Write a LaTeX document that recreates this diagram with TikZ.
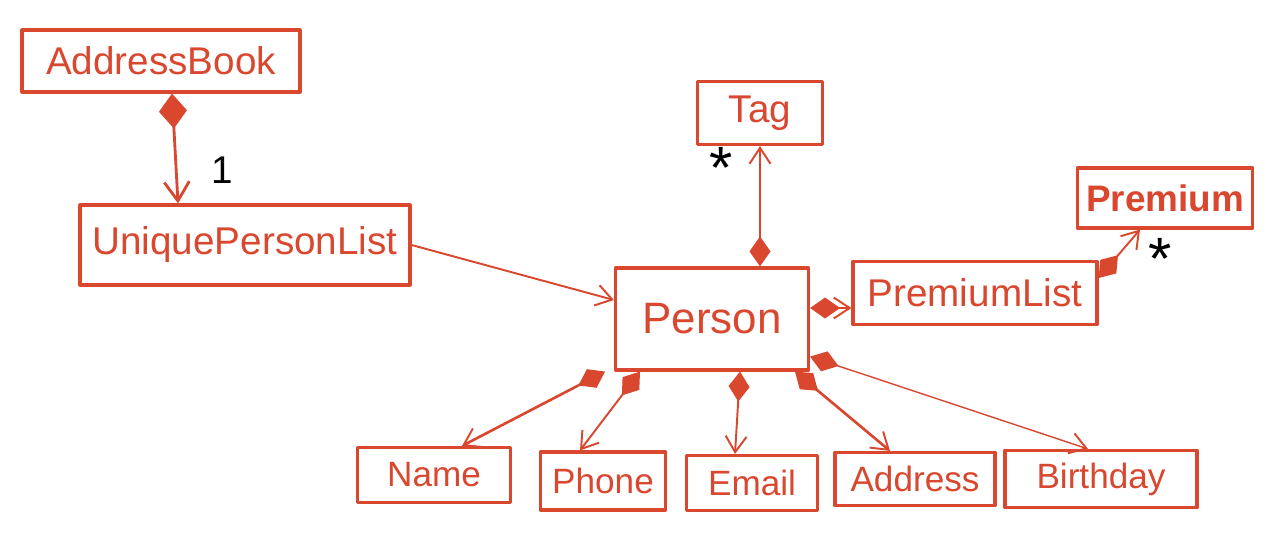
\documentclass[tikz,border=0pt]{standalone}
\usepackage{fontspec}
\setmainfont{Liberation Sans}
\usetikzlibrary{arrows.meta}
\definecolor{ink}{HTML}{D9472F}
\begin{document}
\begin{tikzpicture}[x=0.02cm, y=-0.02cm, line join=round, line cap=round,
	box/.style={draw=ink, line width=1.8pt, text=ink, inner sep=0pt,
		font=\fontsize{22}{26}\selectfont},
	small/.style={box, font=\fontsize{20}{24}\selectfont},
	link/.style={draw=ink, line width=1.1pt,
		-{Straight Barb[length=0.32cm, width=0.42cm, line width=1.1pt]}},
	comp/.style={link, {Diamond[length=0.6cm, width=0.42cm, fill=ink]}-{Straight Barb[length=0.32cm, width=0.42cm, line width=1.1pt]}},
	mult/.style={text=black, font=\fontsize{22}{26}\selectfont},
	star/.style={text=black, font=\fontsize{34}{40}\selectfont}]
	\useasboundingbox (0,0) rectangle (1288,554);
	% classes
	\node[box, minimum width=5.56cm, minimum height=1.24cm] (ab) at (161,61) {AddressBook};
	\node[box, minimum width=6.6cm, minimum height=1.6cm] (upl) at (245,245) {UniquePersonList};
	\node[box, minimum width=3.86cm, minimum height=2.04cm, font=\fontsize{25}{30}\selectfont] (person) at (712,319) {Person};
	\node[box, minimum width=2.5cm, minimum height=1.26cm] (tag) at (760,113) {Tag};
	\node[box, minimum width=4.88cm, minimum height=1.26cm] (plist) at (975,293) {PremiumList};
	\node[box, minimum width=3.5cm, minimum height=1.2cm, font=\fontsize{21}{26}\bfseries] (prem) at (1165,198) {Premium};
	\node[small, minimum width=3.06cm, minimum height=1.1cm] (name) at (434,475) {Name};
	\node[small, minimum width=2.5cm, minimum height=1.16cm] (phone) at (603,481) {Phone};
	\node[small, minimum width=2.62cm, minimum height=1.1cm] (email) at (752,483) {Email};
	\node[small, minimum width=3.2cm, minimum height=1.06cm] (addr) at (915,479) {Address};
	\node[small, minimum width=3.84cm, minimum height=1.14cm] (bday) at (1101,479) {Birthday};
	% associations
	\draw[comp, line width=1.6pt, {Diamond[length=0.7cm, width=0.56cm, fill=ink]}-{Straight Barb[length=0.38cm, width=0.5cm, line width=1.6pt]}]
		([xshift=0.22cm]ab.south) -- ([xshift=-1.34cm]upl.north);
	\node[mult] (one) at (222,170) {1};
	\draw[link] (upl.east) -- ([yshift=0.38cm]person.west);
	\draw[comp, line width=0.8pt] (person.north -| tag.south) -- (tag.south);
	\node[star] (tagmult) at (721,168) {*};
	\draw[comp] ([yshift=0.22cm]person.east) -- ([yshift=-0.3cm]plist.west);
	\draw[comp] ([yshift=0.3cm]plist.east) -- ([xshift=-0.5cm]prem.south);
	\node[star] (premmult) at (1160,259) {*};
	\draw[comp, line width=1.5pt] ([xshift=-2.14cm]person.south) -- ([xshift=0.56cm]name.north);
	\draw[comp] ([xshift=-1.44cm]person.south) -- ([xshift=-0.46cm]phone.north);
	\draw[comp] ([xshift=0.56cm]person.south) -- ([xshift=-0.34cm]email.north);
	\draw[comp, line width=1.5pt] ([xshift=1.66cm]person.south) -- ([xshift=-0.5cm]addr.north);
	\draw[comp, line width=0.8pt] ([yshift=0.3cm]person.south east) -- ([xshift=-0.26cm]bday.north);
\end{tikzpicture}
\end{document}
